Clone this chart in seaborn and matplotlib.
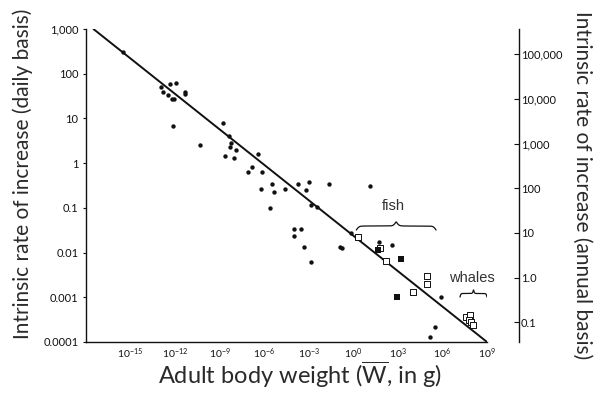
import numpy as np
import pandas as pd
import matplotlib
matplotlib.use("Agg")
import matplotlib.pyplot as plt
import seaborn as sns

# --- data: adult body weight (g) vs intrinsic rate of increase (per day) ---
dot_weight = [3.3e-16, 1.2e-13, 4.5e-13, 1.2e-12, 1.6e-13, 3.2e-13, 6.1e-13, 9e-13,
              4.4e-12, 4.4e-12, 7.4e-13, 4.4e-11, 1.7e-9, 4.3e-9, 6.2e-9, 4.7e-9,
              1.2e-8, 2.3e-9, 8.9e-9, 3.8e-7, 1.6e-7, 7.7e-8, 6.7e-7, 3.6e-6,
              6.4e-7, 4.3e-6, 2.6e-5, 1.8e-4, 2.3e-6, 1e-3, 6.7e-4, 0.022,
              13, 1.45e-3, 3.6e-3, 9.8e-5, 3.2e-4, 9.8e-5, 4.6e-4, 0.12,
              0.17, 1.45e-3, 0.68, 50, 400, 7.4e5, 3e5, 1.5e5]
dot_rate = [310, 51, 58, 63, 40, 33, 27.5, 27.5,
            40, 34.5, 6.8, 2.5, 8.0, 4.0, 2.8, 2.35,
            1.96, 1.44, 1.28, 1.6, 0.8, 0.62, 0.62, 0.34,
            0.27, 0.23, 0.27, 0.34, 0.099, 0.38, 0.25, 0.34,
            0.31, 0.113, 0.104, 0.034, 0.034, 0.024, 0.0133, 0.0131,
            0.0126, 0.006, 0.028, 0.0168, 0.0147, 0.001, 2.2e-4, 1.27e-4]

open_weight = [1.95, 58, 155, 1.1e4, 8.9e4, 8.9e4, 3.8e7, 6.8e7, 6.1e7, 7.9e7, 1.2e8]
open_rate = [0.0228, 0.0124, 0.0065, 1.34e-3, 3.06e-3, 2.0e-3,
             3.56e-4, 4.0e-4, 3.1e-4, 2.84e-4, 2.45e-4]

solid_weight = [43, 1750, 940]
solid_rate = [0.0113, 0.0072, 1.03e-3]

fit_weight = [3.16e-18, 1e9]
fit_rate = [1e3, 1e-4]

days_per_year = 365

weight_exponents = [-15, -12, -9, -6, -3, 0, 3, 6, 9]
daily_ticks = [1e-4, 1e-3, 1e-2, 1e-1, 1, 10, 100, 1000]
daily_labels = ["0.0001", "0.001", "0.01", "0.1", "1", "10", "100", "1,000"]
annual_ticks = [0.1, 1, 10, 100, 1000, 1e4, 1e5]
annual_labels = ["0.1", "1.0", "10", "100", "1,000", "10,000", "100,000"]

# --- style ---
sns.set_style("white")
plt.rcParams["font.family"] = ["Lato", "DejaVu Sans"]
plt.rcParams["mathtext.fontset"] = "custom"
plt.rcParams["mathtext.rm"] = "Lato"
plt.rcParams["mathtext.it"] = "Lato:italic"
plt.rcParams["mathtext.bf"] = "Lato:bold"

ink = "#111111"
label_color = "#2a2a2a"

fig = plt.figure(figsize=(5.98, 3.96), dpi=100)
ax = fig.add_axes([86 / 598, 1 - 342 / 396, 401 / 598, 313 / 396])

dots = pd.DataFrame({"weight": dot_weight, "rate": dot_rate})
opens = pd.DataFrame({"weight": open_weight, "rate": open_rate})
solids = pd.DataFrame({"weight": solid_weight, "rate": solid_rate})
fit = pd.DataFrame({"weight": fit_weight, "rate": fit_rate})

sns.scatterplot(data=dots, x="weight", y="rate", ax=ax, s=10, color=ink,
                linewidth=0, zorder=2)
sns.lineplot(data=fit, x="weight", y="rate", ax=ax, color=ink, linewidth=1.4,
             zorder=3)
sns.scatterplot(data=opens, x="weight", y="rate", ax=ax, marker="s", s=16,
                facecolor="white", edgecolor=ink, linewidth=0.7, zorder=4)
sns.scatterplot(data=solids, x="weight", y="rate", ax=ax, marker="s", s=20,
                color=ink, linewidth=0, zorder=4)

ax.set_xscale("log")
ax.set_yscale("log")
ax.set_xlim(1e-18, 1e9)
ax.set_ylim(1e-4, 1e3)

ax.set_xticks([10.0 ** e for e in weight_exponents])
ax.set_xticklabels([rf"$10^{{{e}}}$" for e in weight_exponents])
ax.set_yticks(daily_ticks)
ax.set_yticklabels(daily_labels)
ax.minorticks_off()

for side in ("top", "right"):
    ax.spines[side].set_visible(False)
for side in ("left", "bottom"):
    ax.spines[side].set_color(ink)
    ax.spines[side].set_linewidth(1.0)

ax.tick_params(axis="x", direction="in", length=4, width=0.8, color=ink,
               labelsize=7.5, labelcolor=ink, pad=3)
ax.tick_params(axis="y", direction="out", length=2.5, width=0.8, color=ink,
               labelsize=8, labelcolor=ink, pad=3)

ax.set_xlabel(r"Adult body weight ($\overline{\mathrm{W}}$, in g)",
              fontsize=17, color=label_color)
ax.set_ylabel("Intrinsic rate of increase (daily basis)", fontsize=15,
              color=label_color)
ax.xaxis.label.set_verticalalignment("center")
ax.xaxis.set_label_coords(214 / 401, -33 / 313)
ylab = ax.yaxis.label
ylab.set_rotation_mode("default")
ylab.set_horizontalalignment("center")
ylab.set_verticalalignment("center")
ax.yaxis.set_label_coords(-63 / 401, 168 / 313)

# secondary axis: the same rates expressed per year
ax2 = ax.twinx()
ax2.set_yscale("log")
ax2.set_ylim(1e-4 * days_per_year, 1e3 * days_per_year)
ax2.set_yticks(annual_ticks)
ax2.set_yticklabels(annual_labels)
ax2.minorticks_off()
for side in ("top", "left", "bottom"):
    ax2.spines[side].set_visible(False)
ax2.spines["right"].set_position(("outward", 23))
ax2.spines["right"].set_color(ink)
ax2.spines["right"].set_linewidth(1.0)
ax2.tick_params(axis="y", direction="in", length=3.5, width=0.8, color=ink,
                labelsize=8, labelcolor=ink, pad=1.5)
ax2.set_ylabel("Intrinsic rate of increase (annual basis)", fontsize=15,
               color=label_color, rotation=270)
rlab = ax2.yaxis.label
rlab.set_rotation_mode("default")
rlab.set_horizontalalignment("center")
rlab.set_verticalalignment("center")
ax2.yaxis.set_label_coords(496 / 401, 157 / 313)


def curly_brace(axis, lx0, lx1, ly0, height, beta=30):
    """Horizontal curly brace in log-log space, opening downward."""
    n = 120
    u = np.linspace(0, 1, n)
    half = 1 / (1 + np.exp(-beta * u)) + 1 / (1 + np.exp(-beta * (u - 1)))
    shape = np.concatenate([half, half[::-1]]) - 0.5
    lx = np.linspace(lx0, lx1, 2 * n)
    axis.plot(10 ** lx, 10 ** (ly0 + height * shape), color=ink, lw=0.9,
              zorder=3)


curly_brace(ax, 0.2, 5.57, -1.496, 0.18)
curly_brace(ax, 7.18, 9.0, -2.995, 0.16)

note_font = ["Liberation Sans", "DejaVu Sans"]
ax.text(480, 0.11, "fish", ha="center", va="center", fontsize=10.5,
        family=note_font, color="#333333")
ax.text(9.3e7, 2.7e-3, "whales", ha="center", va="center", fontsize=10.5,
        family=note_font, color="#333333")

fig.savefig("out.png", dpi=100)
